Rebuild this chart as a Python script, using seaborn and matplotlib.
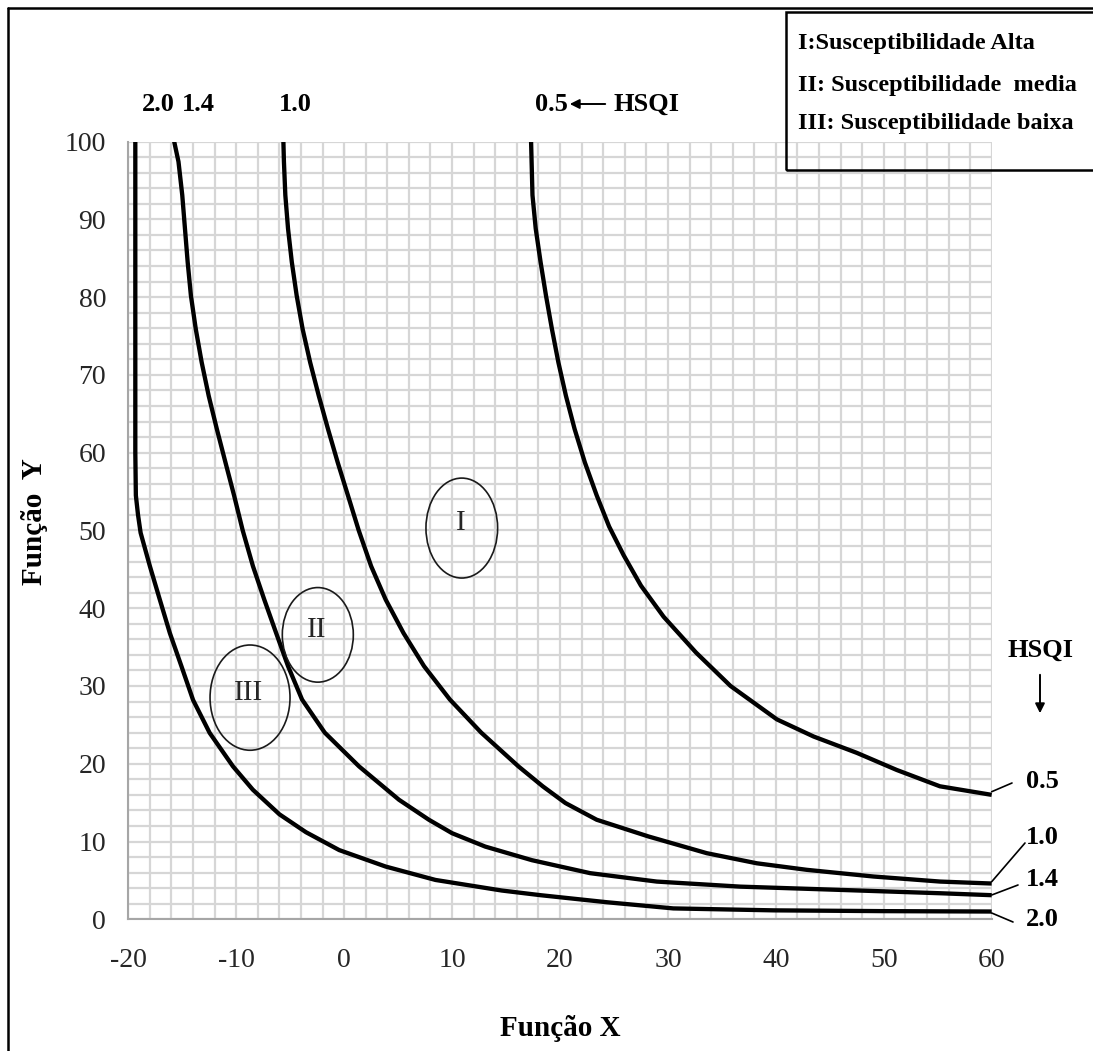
import numpy as np
import pandas as pd
import matplotlib
matplotlib.use("Agg")
import matplotlib.pyplot as plt
import seaborn as sns
from matplotlib.ticker import MultipleLocator
from matplotlib.patches import Ellipse, Rectangle, FancyArrowPatch
from matplotlib.lines import Line2D

# curves (Função X, Função Y) for each HSQI value
x_20 = [-19.35, -19.35, -19.35, -19.3, -19.1, -18.86, -18.0, -17.08, -16.15, -15.08, -14.0, -12.46,
        -10.3, -8.46, -6.0, -3.54, -0.46, 3.85, 8.46, 14.6, 18.2, 24.3, 30.5, 39.8, 50.0, 60.0]
y_20 = [100, 80, 60, 54.5, 52.0, 49.7, 45.4, 41.1, 36.8, 32.55, 28.2, 23.96,
        19.66, 16.66, 13.5, 11.2, 8.9, 6.78, 5.06, 3.7, 3.1, 2.2, 1.4, 1.15, 1.05, 1.0]

x_14 = [-15.75, -15.35, -15.0, -14.75, -14.5, -14.2, -13.75, -13.2, -12.55, -11.8, -11.0, -10.2,
        -9.4, -8.45, -7.4, -6.3, -5.2, -3.9, -1.8, 1.38, 5.08, 7.85, 10.0, 13.07, 17.4, 22.8,
        28.97, 36.7, 45.96, 55.23, 60.0]
y_14 = [100, 97.4, 93.1, 88.8, 84.5, 80.2, 75.9, 71.6, 67.3, 63.05, 58.75, 54.5,
        50.0, 45.4, 41.1, 36.8, 32.55, 28.25, 24.0, 19.66, 15.37, 12.8, 11.07, 9.35, 7.6, 5.93,
        4.85, 4.2, 3.78, 3.35, 3.1]

x_10 = [-5.63, -5.58, -5.45, -5.2, -4.85, -4.4, -3.85, -3.15, -2.35, -1.5, -0.6, 0.35,
        1.35, 2.5, 3.85, 5.5, 7.4, 9.8, 12.7, 16.15, 18.4, 20.5, 23.4, 28.2, 33.6, 38.24,
        42.87, 49.05, 55.23, 60.0]
y_10 = [100, 97.4, 93.1, 88.8, 84.5, 80.2, 75.9, 71.6, 67.3, 63.05, 58.75, 54.5,
        50.0, 45.4, 41.1, 36.8, 32.55, 28.25, 24.0, 19.66, 17.1, 14.95, 12.8, 10.65, 8.5, 7.2,
        6.36, 5.5, 4.85, 4.6]

x_05 = [17.32, 17.45, 17.75, 18.2, 18.7, 19.25, 19.85, 20.55, 21.35, 22.3, 23.4, 24.55,
        25.9, 27.5, 29.6, 32.6, 35.8, 40.1, 43.5, 47.5, 51.2, 55.2, 60.0]
y_05 = [100, 93.1, 88.8, 84.5, 80.2, 75.9, 71.6, 67.3, 63.05, 58.75, 54.5, 50.5,
        46.8, 42.9, 38.9, 34.3, 30.0, 25.7, 23.5, 21.4, 19.2, 17.1, 16.0]

hsqi_labels = ["2.0", "1.4", "1.0", "0.5"]
legend_lines = ["I:Susceptibilidade Alta", "II: Susceptibilidade  media", "III: Susceptibilidade baixa"]
x_ticks = [-20, -10, 0, 10, 20, 30, 40, 50, 60]
y_ticks = [0, 10, 20, 30, 40, 50, 60, 70, 80, 90, 100]

frames = []
for lab, xs, ys in zip(hsqi_labels, [x_20, x_14, x_10, x_05], [y_20, y_14, y_10, y_05]):
    frames.append(pd.DataFrame({"x": xs, "y": ys, "hsqi": lab}))
df = pd.concat(frames, ignore_index=True)

sns.set_theme(style="white")
plt.rcParams["font.family"] = ["Liberation Serif", "DejaVu Serif"]

W, H = 1093, 1051
fig = plt.figure(figsize=(W / 100, H / 100), dpi=100)


def px(x, y):
    # image pixel (top-left origin) -> figure fraction
    return x / W, 1 - y / H


ax = fig.add_axes([128.3 / W, 1 - 919.3 / H, (991.7 - 128.3) / W, (919.3 - 141.5) / H])

sns.lineplot(data=df, x="x", y="y", hue="hsqi", palette=["black"] * 4, sort=False,
             estimator=None, lw=3.1, legend=False, ax=ax, solid_joinstyle="round",
             solid_capstyle="butt")

ax.set_xlim(-20, 60)
ax.set_ylim(0, 100)
ax.set_xticks(x_ticks)
ax.set_yticks(y_ticks)
ax.set_xticklabels([str(t) for t in x_ticks])
ax.xaxis.set_minor_locator(MultipleLocator(2))
ax.yaxis.set_minor_locator(MultipleLocator(2))
ax.grid(which="both", color="#d6d6d6", lw=1.6)
ax.set_axisbelow(True)
ax.tick_params(which="both", length=0, labelsize=20)
ax.tick_params(axis="x", pad=21)
ax.tick_params(axis="y", pad=16)
for s in ["top", "right"]:
    ax.spines[s].set_visible(False)
for s in ["left", "bottom"]:
    ax.spines[s].set_color("#a6a6a6")
    ax.spines[s].set_linewidth(1.5)
ax.set_xlabel("")
ax.set_ylabel("")

# susceptibility zones
for cx, cy, w, h, lab in [(10.9, 50.3, 6.64, 12.85, "I"), (-2.44, 36.57, 6.58, 12.16, "II"),
                          (-8.72, 28.5, 7.41, 13.53, "III")]:
    ax.add_patch(Ellipse((cx, cy), w, h, fill=False, ec="#1a1a1a", lw=1.2, zorder=5))
    ax.text(cx - 0.1, cy + 0.6, lab, ha="center", va="center", fontsize=21, zorder=6)

bold = dict(fontweight="bold", color="black")
fig.text(*px(560, 1028), "Função X", ha="center", va="center", fontsize=21, **bold)
fig.text(*px(34, 522), "Função  Y", ha="center", va="center", rotation=90, fontsize=21, **bold)

# HSQI labels at top
for x0, lab in zip([158, 198, 295, 551], hsqi_labels):
    fig.text(*px(x0, 104), lab, ha="center", va="center", fontsize=19, **bold)
fig.text(*px(646, 104), "HSQI", ha="center", va="center", fontsize=19, **bold)
fig.add_artist(FancyArrowPatch(px(608, 104), px(567, 104), transform=fig.transFigure,
                               arrowstyle="-|>", mutation_scale=14, lw=1.4, color="black"))

# HSQI labels at right with leader lines
right = [("0.5", 782, (991.7, 791.7), (1012, 783)),
         ("1.0", 837, (991.7, 881.7), (1025, 843)),
         ("1.4", 879, (991.7, 895), (1018, 885)),
         ("2.0", 919, (991.7, 913), (1013, 922))]
for lab, ty, p0, p1 in right:
    fig.text(*px(1042, ty), lab, ha="center", va="center", fontsize=19, **bold)
    a, b = px(*p0)
    c, d = px(*p1)
    fig.add_artist(Line2D([a, c], [b, d], transform=fig.transFigure, color="black", lw=1.2))
fig.text(*px(1040, 650), "HSQI", ha="center", va="center", fontsize=19, **bold)
fig.add_artist(FancyArrowPatch(px(1040, 672), px(1040, 716), transform=fig.transFigure,
                               arrowstyle="-|>", mutation_scale=14, lw=1.4, color="black"))

# legend box
l0, t0 = px(786, 170)
fig.add_artist(Rectangle((l0, t0), (1100 - 786) / W, (170 - 12) / H, transform=fig.transFigure,
                         fill=False, ec="black", lw=1.8))
for ty, line in zip([43, 85, 123], legend_lines):
    fig.text(*px(798, ty), line, ha="left", va="center", fontsize=17.5, **bold)

# outer frame
fig.add_artist(Line2D([8 / W, 1], [1 - 8 / H, 1 - 8 / H], transform=fig.transFigure, color="black", lw=1.8))
fig.add_artist(Line2D([8 / W, 8 / W], [0, 1 - 8 / H], transform=fig.transFigure, color="black", lw=1.8))

fig.savefig("out.png", dpi=100)
